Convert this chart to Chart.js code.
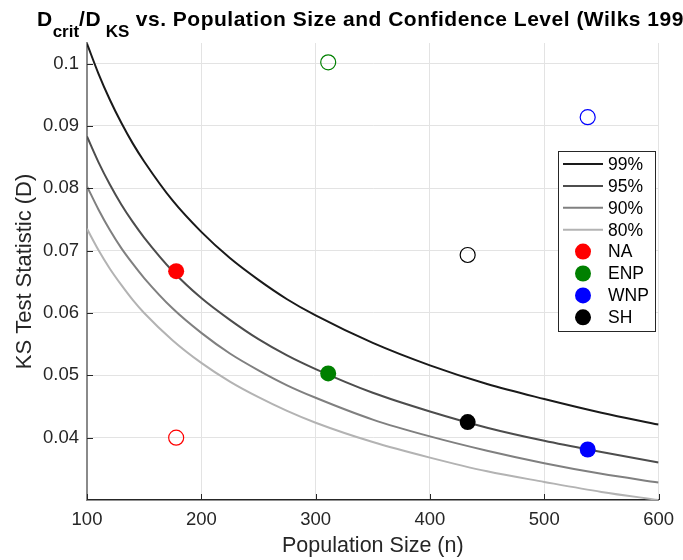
<!DOCTYPE html>
<html>
<head>
<meta charset="utf-8">
<title>KS critical values vs. population size</title>
<script src="https://cdn.jsdelivr.net/npm/chart.js@4/dist/chart.umd.min.js"></script>
<style>
  html, body { margin: 0; padding: 0; background: #ffffff; }
  #wrap { width: 683px; height: 560px; }
</style>
</head>
<body>
<div id="wrap"><canvas id="chart" width="683" height="560"></canvas></div>
<script>
// Population sizes at which the critical-value curves are sampled
const sampleN = [100, 110, 120, 130, 140, 150, 175, 200, 225, 250, 275, 300, 350, 400, 450, 500, 550, 600];

// Critical KS statistic D_crit for each confidence level
const crit99 = [0.1032, 0.0984, 0.0942, 0.0905, 0.0872, 0.0843, 0.0780, 0.0730, 0.0688, 0.0653, 0.0622, 0.0596, 0.0552, 0.0516, 0.0486, 0.0462, 0.0440, 0.0421];
const crit95 = [0.0883, 0.0842, 0.0806, 0.0774, 0.0746, 0.0721, 0.0667, 0.0624, 0.0589, 0.0558, 0.0532, 0.0510, 0.0472, 0.0442, 0.0416, 0.0395, 0.0377, 0.0360];
const crit90 = [0.0803, 0.0766, 0.0733, 0.0704, 0.0679, 0.0656, 0.0607, 0.0568, 0.0535, 0.0508, 0.0484, 0.0464, 0.0429, 0.0402, 0.0379, 0.0359, 0.0342, 0.0328];
const crit80 = [0.0735, 0.0701, 0.0671, 0.0645, 0.0621, 0.0600, 0.0556, 0.0520, 0.0490, 0.0465, 0.0443, 0.0424, 0.0393, 0.0368, 0.0346, 0.0329, 0.0313, 0.0300];
const levelLabels = ['99%', '95%', '90%', '80%'];

// Populations: sample size, D_crit at that size (filled) and observed D_KS (open)
const popNames = ['NA', 'ENP', 'WNP', 'SH'];
const popSize = [178, 311, 538, 433];
const popDcrit = [0.0667, 0.0503, 0.0381, 0.0425];
const popDks = [0.0400, 0.1002, 0.0914, 0.0693];

// Axis ticks
const xTicks = [100, 200, 300, 400, 500, 600];
const yTicks = [0.04, 0.05, 0.06, 0.07, 0.08, 0.09, 0.1];

const FONT = "'Liberation Sans', Arial, Helvetica, sans-serif";
const AXIS_TEXT = '#262626';
const levelColors = ['#1a1a1a', '#4d4d4d', '#808080', '#b3b3b3'];
const popColors = ['#ff0000', '#008000', '#0000ff', '#000000'];

const curves = [crit99, crit95, crit90, crit80];
const datasets = [];

popNames.forEach((name, i) => {
  datasets.push({
    label: name,
    legendKind: 'point',
    data: [{ x: popSize[i], y: popDcrit[i] }],
    showLine: false,
    pointRadius: 8,
    pointBorderWidth: 0,
    pointBackgroundColor: popColors[i],
    pointBorderColor: popColors[i],
    order: 0
  });
  datasets.push({
    label: name + ' D_KS',
    legendKind: null,
    data: [{ x: popSize[i], y: popDks[i] }],
    showLine: false,
    pointRadius: 7.5,
    pointBorderWidth: 1.2,
    pointBackgroundColor: 'rgba(0,0,0,0)',
    pointBorderColor: popColors[i],
    order: 0
  });
});

curves.forEach((curve, k) => {
  datasets.push({
    label: levelLabels[k],
    legendKind: 'line',
    data: sampleN.map((n, j) => ({ x: n, y: curve[j] })),
    showLine: true,
    borderColor: levelColors[k],
    borderWidth: 2,
    pointRadius: 0,
    cubicInterpolationMode: 'monotone',
    fill: false,
    order: 1
  });
});

// Legend order: the curves first, then the populations
const legendOrder = [...levelLabels, ...popNames];

// Title with subscripted D_crit / D_KS
const titlePlugin = {
  id: 'subTitle',
  afterDraw(chart) {
    const ctx = chart.ctx;
    const parts = [
      { t: 'D', sub: false },
      { t: 'crit', sub: true },
      { t: '/D', sub: false },
      { t: ' KS', sub: true },
      { t: ' vs. Population Size and Confidence Level (Wilks 1995)', sub: false }
    ];
    let x = 37;
    ctx.save();
    ctx.fillStyle = '#000000';
    ctx.textBaseline = 'alphabetic';
    ctx.textAlign = 'left';
    parts.forEach(p => {
      const spacing = p.sub ? 0 : 0.5;
      ctx.font = (p.sub ? 'bold 17px ' : 'bold 21px ') + FONT;
      ctx.letterSpacing = '0px';
      const w = ctx.measureText(p.t).width + spacing * p.t.length;
      ctx.letterSpacing = spacing + 'px';
      ctx.fillText(p.t, x, p.sub ? 37 : 26);
      x += w;
    });
    ctx.restore();
  }
};

// Inward tick marks on the left and bottom axes
const tickMarkPlugin = {
  id: 'innerTicks',
  afterDraw(chart) {
    const { ctx, chartArea, scales } = chart;
    ctx.save();
    ctx.strokeStyle = AXIS_TEXT;
    ctx.lineWidth = 1;
    ctx.beginPath();
    xTicks.forEach(v => {
      const px = Math.round(scales.x.getPixelForValue(v)) + 0.5;
      ctx.moveTo(px, chartArea.bottom);
      ctx.lineTo(px, chartArea.bottom - 6);
    });
    yTicks.forEach(v => {
      const py = Math.round(scales.y.getPixelForValue(v)) + 0.5;
      ctx.moveTo(chartArea.left, py);
      ctx.lineTo(chartArea.left + 6, py);
    });
    ctx.stroke();
    ctx.restore();
  }
};

// Boxed legend inside the plot area, built from the datasets
const boxLegendPlugin = {
  id: 'boxLegend',
  afterDraw(chart) {
    const ctx = chart.ctx;
    const box = { x: 558.5, y: 151.5, w: 97, h: 180 };
    const rowH = 21.9;
    const firstRow = 164;
    ctx.save();
    ctx.fillStyle = '#ffffff';
    ctx.fillRect(box.x, box.y, box.w, box.h);
    ctx.strokeStyle = '#262626';
    ctx.lineWidth = 1;
    ctx.strokeRect(box.x, box.y, box.w, box.h);
    ctx.font = '17.5px ' + FONT;
    ctx.textBaseline = 'middle';
    ctx.textAlign = 'left';
    legendOrder.forEach((label, r) => {
      const ds = chart.data.datasets.find(d => d.label === label && d.legendKind);
      const y = firstRow + r * rowH;
      if (ds.legendKind === 'line') {
        ctx.strokeStyle = ds.borderColor;
        ctx.lineWidth = ds.borderWidth;
        ctx.beginPath();
        ctx.moveTo(563, y);
        ctx.lineTo(603, y);
        ctx.stroke();
      } else {
        ctx.fillStyle = ds.pointBackgroundColor;
        ctx.beginPath();
        ctx.arc(583, y, ds.pointRadius, 0, Math.PI * 2);
        ctx.fill();
      }
      ctx.fillStyle = '#000000';
      ctx.fillText(label, 608, y + 1);
    });
    ctx.restore();
  }
};

new Chart(document.getElementById('chart'), {
  type: 'scatter',
  data: { datasets },
  options: {
    responsive: false,
    animation: false,
    devicePixelRatio: 1,
    layout: { padding: { top: 43, right: 16, left: 0, bottom: 0 } },
    plugins: {
      legend: { display: false },
      title: { display: false },
      tooltip: { enabled: false }
    },
    scales: {
      x: {
        type: 'linear',
        min: 100,
        max: 600,
        afterFit(scale) { scale.height = 60; },
        afterBuildTicks(scale) { scale.ticks = xTicks.map(v => ({ value: v })); },
        grid: { color: '#e3e3e3', lineWidth: 1, drawTicks: false },
        border: { display: true, color: '#262626', width: 1.5 },
        ticks: {
          padding: 9,
          color: AXIS_TEXT,
          font: { family: FONT, size: 18.5 },
          maxRotation: 0,
          callback: v => String(v)
        },
        title: {
          display: true,
          text: 'Population Size (n)',
          color: AXIS_TEXT,
          font: { family: FONT, size: 21.5 },
          padding: { top: 0, bottom: 1 }
        }
      },
      y: {
        type: 'linear',
        min: 0.0300,
        max: 0.1033,
        afterFit(scale) { scale.width = 87; },
        afterBuildTicks(scale) { scale.ticks = yTicks.map(v => ({ value: v })); },
        grid: { color: '#e3e3e3', lineWidth: 1, drawTicks: false },
        border: { display: true, color: '#8a8a8a', width: 2 },
        ticks: {
          padding: 8,
          color: AXIS_TEXT,
          font: { family: FONT, size: 18.5 },
          callback: v => String(parseFloat(Number(v).toFixed(2)))
        },
        title: {
          display: true,
          text: 'KS Test Statistic (D)',
          color: AXIS_TEXT,
          font: { family: FONT, size: 22 },
          padding: { top: 12, bottom: 0 }
        }
      }
    }
  },
  plugins: [titlePlugin, tickMarkPlugin, boxLegendPlugin]
});
</script>
</body>
</html>
